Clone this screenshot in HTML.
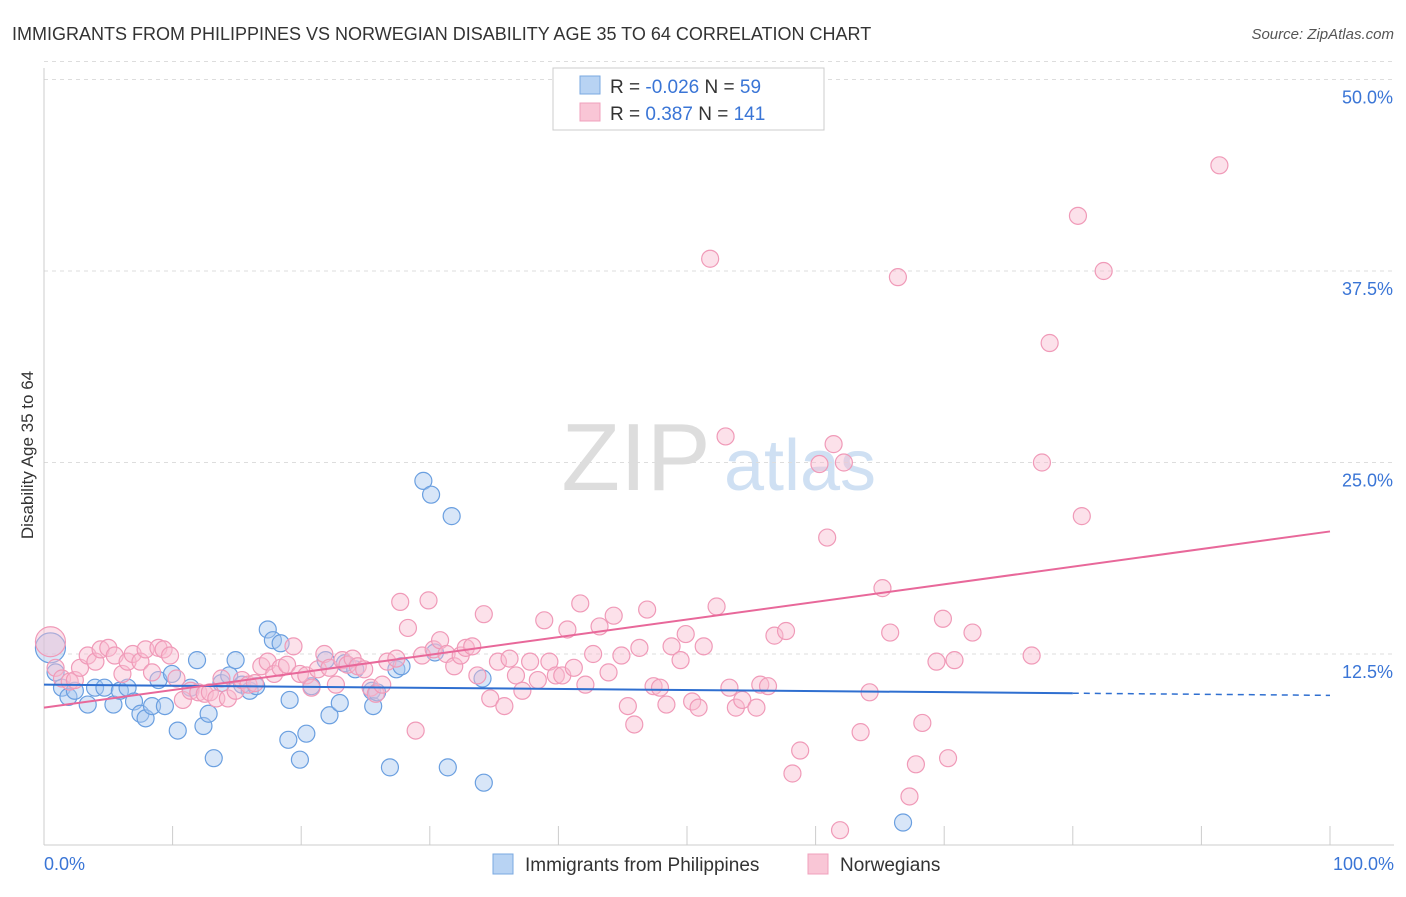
<!DOCTYPE html>
<html><head><meta charset="utf-8"><style>
body{margin:0;background:#fff;font-family:"Liberation Sans",sans-serif}
svg text{font-family:"Liberation Sans",sans-serif}
</style></head><body>
<svg id="chart" width="1406" height="892" viewBox="0 0 1406 892" xmlns="http://www.w3.org/2000/svg">
<text x="12" y="40" font-size="18" fill="#333">IMMIGRANTS FROM PHILIPPINES VS NORWEGIAN DISABILITY AGE 35 TO 64 CORRELATION CHART</text>
<text x="1394" y="39" font-size="15" fill="#555" text-anchor="end" font-style="italic">Source: ZipAtlas.com</text>
<g>
<text x="636" y="490" font-size="96" fill="#ddd" text-anchor="middle" font-family="Liberation Serif">ZIP</text>
<text x="800" y="490" font-size="72" fill="#cfe0f3" text-anchor="middle">atlas</text>
</g>
<g id="grid"></g>
<g id="axes"></g>
<g id="blue"></g>
<g id="pink"></g>
<g id="trends"></g>
<text transform="translate(33,455) rotate(-90)" font-size="17" fill="#333" text-anchor="middle">Disability Age 35 to 64</text>
<g>
<rect x="553" y="68" width="271" height="62" fill="#fff" stroke="#ccc"/>
<rect x="580" y="76" width="20" height="18" fill="#b8d3f3" stroke="#7aa8e0"/>
<rect x="580" y="103" width="20" height="18" fill="#f9c6d6" stroke="#f0a0bc"/>
<text x="610" y="93" font-size="19" fill="#333">R = <tspan fill="#3a75d6">-0.026</tspan>   N =  <tspan fill="#3a75d6">59</tspan></text>
<text x="610" y="120" font-size="19" fill="#333">R =   <tspan fill="#3a75d6">0.387</tspan>   N = <tspan fill="#3a75d6">141</tspan></text>
</g>
<g>
<rect x="493" y="854" width="20" height="20" fill="#b8d3f3" stroke="#7aa8e0"/>
<text x="525" y="871" font-size="19" fill="#333">Immigrants from Philippines</text>
<rect x="808" y="854" width="20" height="20" fill="#f9c6d6" stroke="#f0a0bc"/>
<text x="840" y="871" font-size="19" fill="#333">Norwegians</text>
</g>
</svg>
<script>
const yTicks=[12.5,25,37.5,50];
const yTickLabels=["12.5%","25.0%","37.5%","50.0%"];
const xTickLabels=["0.0%","100.0%"];
const blueX=[0.5,0.9,1.4,1.9,2.4,3.4,3.97,4.7,5.4,5.9,6.5,7.0,7.5,7.9,8.4,8.9,9.4,9.95,10.4,11.4,11.9,12.4,12.8,13.2,13.8,14.4,14.9,15.4,16.0,16.5,17.4,17.8,18.4,19.1,19.0,19.9,20.4,20.8,21.9,22.2,23.0,23.4,24.2,25.5,25.6,25.9,26.9,27.4,27.8,29.5,30.1,30.4,31.4,31.7,34.1,34.2,66.8];
const blueY=[12.9,11.3,10.3,9.7,10.1,9.2,10.3,10.3,9.2,10.1,10.3,9.4,8.6,8.3,9.1,10.8,9.1,11.2,7.5,10.3,12.1,7.8,8.6,5.7,10.6,11.1,12.1,10.5,10.1,10.4,14.1,13.4,13.2,9.5,6.9,5.6,7.3,10.4,12.1,8.5,9.3,11.9,11.5,10.1,9.1,10.0,5.1,11.5,11.7,23.8,22.9,12.6,5.1,21.5,10.9,4.1,1.5];
const pinkX=[0.5,0.9,1.4,2.0,2.4,2.8,3.4,4.0,4.4,5.0,5.5,6.1,6.5,6.9,7.5,7.9,8.4,8.9,9.3,9.8,10.3,10.8,11.4,12.0,12.5,12.9,13.4,13.8,14.3,14.9,15.4,15.9,16.4,16.9,17.4,17.9,18.4,18.9,19.4,19.9,20.4,20.8,21.3,21.8,22.2,22.7,23.2,23.6,24.0,24.4,24.9,25.4,25.8,26.3,26.7,27.4,27.7,28.3,28.9,29.4,29.9,30.3,30.8,31.3,31.9,32.4,32.8,33.3,33.7,34.2,34.7,35.3,35.8,36.2,36.7,37.2,37.8,38.4,38.9,39.3,39.8,40.3,40.7,41.2,41.7,42.1,42.7,43.2,43.9,44.3,44.9,45.4,45.9,46.3,46.9,47.4,47.9,48.4,48.8,49.5,49.9,50.4,50.9,51.3,51.8,52.3,53.0,53.3,53.8,54.3,55.4,55.7,56.3,56.8,57.7,58.2,58.8,60.3,60.9,61.4,61.9,62.2,63.5,64.2,65.2,65.8,66.4,67.3,67.8,68.3,69.4,69.9,70.3,70.8,72.2,76.8,77.6,78.2,80.4,80.7,82.4,91.4];
const pinkY=[13.3,11.6,10.9,10.7,10.8,11.6,12.4,12.0,12.8,12.9,12.4,11.2,12.0,12.5,12.0,12.8,11.3,12.9,12.8,12.4,10.9,9.5,10.1,10.0,9.9,10.0,9.6,10.9,9.6,10.1,10.8,10.5,10.6,11.7,12.0,11.2,11.6,11.8,13.0,11.2,11.1,10.3,11.5,12.5,11.6,10.5,12.1,11.8,12.2,11.7,11.5,10.3,9.9,10.5,12.0,12.2,15.9,14.2,7.5,12.4,16.0,12.8,13.4,12.5,11.7,12.4,12.9,13.0,11.1,15.1,9.6,12.0,9.1,12.2,11.1,10.1,12.0,10.8,14.7,12.0,11.1,11.1,14.1,11.6,15.8,10.5,12.5,14.3,11.3,15.0,12.4,9.1,7.9,12.9,15.4,10.4,10.3,9.2,13.0,12.1,13.8,9.4,9.0,13.0,38.3,15.6,26.7,10.3,9.0,9.5,9.0,10.5,10.4,13.7,14.0,4.7,6.2,24.9,20.1,26.2,1.0,25.0,7.4,10.0,16.8,13.9,37.1,3.2,5.3,8.0,12.0,14.8,5.7,12.1,13.9,12.4,25.0,32.8,41.1,21.5,37.5,44.4];
const blueTrend=[10.5,9.8];
const pinkTrend=[9.0,20.5];
const NS="http://www.w3.org/2000/svg";
const X=v=>44+v*12.86, Y=v=>845.5-v*15.32;
function mk(tag,attrs,parent){const e=document.createElementNS(NS,tag);for(const k in attrs)e.setAttribute(k,attrs[k]);parent.appendChild(e);return e;}
const grid=document.getElementById('grid'),axes=document.getElementById('axes');
yTicks.forEach((t,i)=>{
 const l=mk('line',{x1:44,x2:1394,y1:Y(t),y2:Y(t),stroke:'#ddd','stroke-dasharray':'4,4'},grid);
 
 
 const tx=mk('text',{x:1393,y:Y(t)+24,'font-size':18,fill:'#3a75d6','text-anchor':'end'},axes);
 tx.textContent=yTickLabels[i];
 
 
});
mk('line',{x1:44,x2:1394,y1:Y(50)-18,y2:Y(50)-18,stroke:'#ddd','stroke-dasharray':'4,4'},grid);
mk('line',{x1:44,x2:44,y1:68,y2:845,stroke:'#ccc'},axes);
mk('line',{x1:44,x2:1394,y1:845,y2:845,stroke:'#ccc'},axes);
for(let i=0;i<=10;i++){const t=mk('line',{x1:X(i*10),x2:X(i*10),y1:826,y2:845,stroke:'#ccc'},axes);}
const xl0=mk('text',{x:44,y:870,'font-size':18,fill:'#3a75d6'},axes);xl0.textContent=xTickLabels[0];


const xl1=mk('text',{x:1394,y:870,'font-size':18,fill:'#3a75d6','text-anchor':'end'},axes);xl1.textContent=xTickLabels[1];


function pts(xs,ys,g,fill,stroke,name){xs.forEach((x,i)=>{const c=mk('circle',{cx:X(x),cy:Y(ys[i]),r:i===0?15:8.5,fill:fill,'fill-opacity':0.45,stroke:stroke,'stroke-width':1.2},g);
 
 });}
pts(blueX,blueY,document.getElementById('blue'),'#a8c8f0','#6a9fe0','philippines-point');
pts(pinkX,pinkY,document.getElementById('pink'),'#f8bcd0','#f09ab8','norwegians-point');
const tr=document.getElementById('trends');
const bAt=x=>blueTrend[0]+(blueTrend[1]-blueTrend[0])*x/100;
const b1=mk('line',{x1:X(0),y1:Y(bAt(0)),x2:X(80),y2:Y(bAt(80)),stroke:'#2f6fd0','stroke-width':2},tr);


mk('line',{x1:X(80),y1:Y(bAt(80)),x2:X(100),y2:Y(bAt(100)),stroke:'#2f6fd0','stroke-width':1.5,'stroke-dasharray':'6,5'},tr);
const p1=mk('line',{x1:X(0),y1:Y(pinkTrend[0]),x2:X(100),y2:Y(pinkTrend[1]),stroke:'#e8689a','stroke-width':2},tr);


</script>
</body></html>
